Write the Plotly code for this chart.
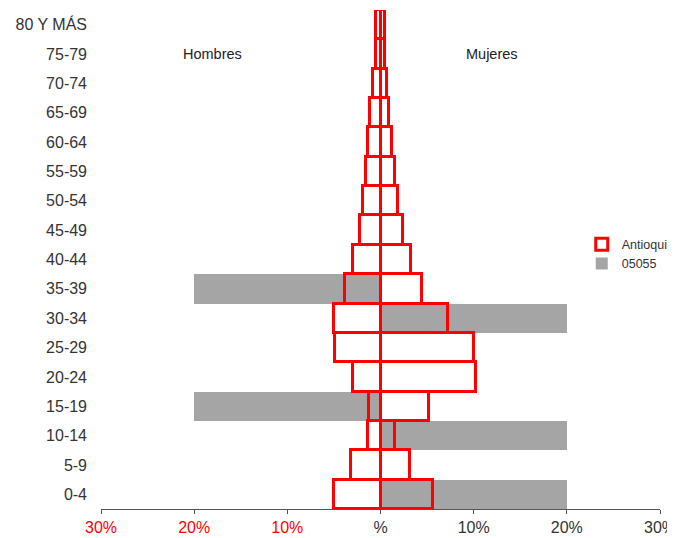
import plotly.graph_objects as go

# age groups, bottom to top
grupos = ["0-4", "5-9", "10-14", "15-19", "20-24", "25-29", "30-34", "35-39",
          "40-44", "45-49", "50-54", "55-59", "60-64", "65-69", "70-74",
          "75-79", "80 Y MÁS"]

# Antioquia, percent of population
antioquia_hombres = [5.0, 3.15, 1.3, 1.2, 3.0, 4.85, 5.0, 3.8,
                     2.9, 2.25, 1.9, 1.55, 1.3, 1.1, 0.8, 0.5, 0.45]
antioquia_mujeres = [5.6, 3.2, 1.6, 5.25, 10.25, 10.0, 7.25, 4.5,
                     3.3, 2.4, 1.9, 1.6, 1.25, 0.95, 0.7, 0.45, 0.5]

# municipio 05055
m05055_hombres = [0, 0, 0, 20, 0, 0, 0, 20, 0, 0, 0, 0, 0, 0, 0, 0, 0]
m05055_mujeres = [20, 0, 20, 0, 0, 0, 20, 0, 0, 0, 0, 0, 0, 0, 0, 0, 0]

ticks_x = [-30, -20, -10, 0, 10, 20, 30]
ticks_txt = ['<span style="color:#ff0000">30%</span>',
             '<span style="color:#ff0000">20%</span>',
             '<span style="color:#ff0000">10%</span>',
             "%", "10%", "20%", "30%"]

fig = go.Figure()

fig.add_trace(go.Bar(
    name="05055",
    y=grupos + grupos,
    x=[-v for v in m05055_hombres] + m05055_mujeres,
    orientation="h",
    marker=dict(color="#a5a5a5", line=dict(width=0)),
    legendrank=2,
))

fig.add_trace(go.Bar(
    name="Antioquia",
    y=grupos + grupos,
    x=[-v for v in antioquia_hombres] + antioquia_mujeres,
    orientation="h",
    marker=dict(color="rgba(0,0,0,0)", line=dict(color="#ff0000", width=3)),
    legendrank=1,
))

fig.add_annotation(text="Hombres", x=-18, y="75-79", showarrow=False,
                   font=dict(size=14.5, color="#222"))
fig.add_annotation(text="Mujeres", x=12, y="75-79", showarrow=False,
                   font=dict(size=14.5, color="#222"))

# page body has an 8px margin, so the figure is offset by 8px;
# a bit wider than the window so the legend text runs off the edge
fig.update_layout(
    width=690, height=538,
    margin=dict(l=93, r=38, t=2, b=37, autoexpand=False),
    barmode="overlay", bargap=0,
    paper_bgcolor="white", plot_bgcolor="white",
    font=dict(family="Liberation Sans, Arial, sans-serif", color="#333"),
    legend=dict(x=0.86, y=0.56, xanchor="left", yanchor="top",
                font=dict(size=12.5, color="#333"), bgcolor="rgba(0,0,0,0)"),
    xaxis=dict(range=[-30, 30], tickvals=ticks_x, ticktext=ticks_txt,
               automargin=False,
               showgrid=False, zeroline=True, zerolinecolor="#000", zerolinewidth=1,
               showline=True, linecolor="#555", linewidth=1,
               ticks="outside", ticklen=4, tickcolor="#555",
               tickfont=dict(size=16, color="#333")),
    yaxis=dict(categoryorder="array", categoryarray=grupos, automargin=False,
               range=[-0.5, 16.5], showgrid=False, zeroline=False,
               showline=False, ticks="", ticklabelstandoff=13,
               tickfont=dict(size=16, color="#333")),
)

fig.write_html("out.html")
